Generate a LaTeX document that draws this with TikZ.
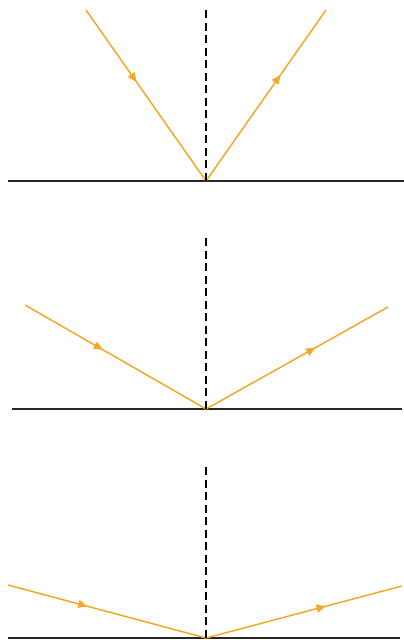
\documentclass[tikz,border=0pt]{standalone}
\usetikzlibrary{arrows.meta,decorations.markings}
\definecolor{ray}{RGB}{242,168,40}
\tikzset{
  surface/.style={draw=black!85, line width=1.4pt},
  normal/.style={draw=black, line width=2pt, dash pattern=on 8pt off 4.5pt},
  rayline/.style={draw=ray, line width=1.5pt},
  raymark/.style={postaction={decorate, decoration={markings,
     mark=at position #1 with {\arrow{Triangle[length=9pt,width=8pt]}}}}}
}
\begin{document}
\begin{tikzpicture}[x=1pt,y=-1pt]
\useasboundingbox (0,0) rectangle (404,640);
% panel 1
\coordinate (p1) at (206,181);
\coordinate (a1) at (86,10);
\coordinate (b1) at (326,10);
\coordinate (n1) at (206,10);
\coordinate (l1) at (8,181);
\coordinate (r1) at (404,181);
\draw[surface] (l1) -- (r1);
\draw[rayline, raymark=0.42] (a1) -- (p1);
\draw[rayline, raymark=0.62] (p1) -- (b1);
\draw[normal] (n1) -- (p1);
% panel 2
\coordinate (p2) at (206,409);
\coordinate (a2) at (25,305);
\coordinate (b2) at (388,307);
\coordinate (n2) at (206,238);
\coordinate (l2) at (12,409);
\coordinate (r2) at (402,409);
\draw[surface] (l2) -- (r2);
\draw[rayline, raymark=0.43] (a2) -- (p2);
\draw[rayline, raymark=0.60] (p2) -- (b2);
\draw[normal] (n2) -- (p2);
% panel 3
\coordinate (p3) at (206,638);
\coordinate (a3) at (8,585);
\coordinate (b3) at (402,586);
\coordinate (n3) at (206,467);
\coordinate (l3) at (8,638);
\coordinate (r3) at (400,638);
\draw[surface] (l3) -- (r3);
\draw[rayline, raymark=0.40] (a3) -- (p3);
\draw[rayline, raymark=0.61] (p3) -- (b3);
\draw[normal] (n3) -- (p3);
\end{tikzpicture}
\end{document}
